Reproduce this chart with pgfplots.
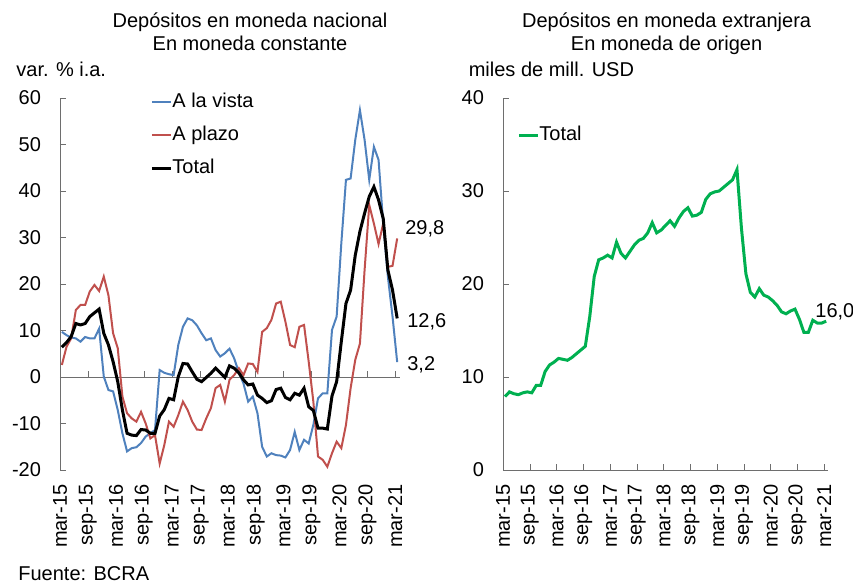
\documentclass[border=0pt]{standalone}
\usepackage{fontspec}
\setmainfont{Liberation Sans}
\usepackage{pgfplots}
\pgfplotsset{compat=1.18}
\usepackage{pgfplotstable}
\definecolor{cblue}{RGB}{79,129,189}
\definecolor{cred}{RGB}{192,80,77}
\definecolor{cgreen}{RGB}{0,176,80}
\definecolor{axgray}{RGB}{110,110,110}

\pgfplotstableread{
m vista plazo total
0 9.7 2.6 6.4
1 9.0 6.5 7.4
2 8.5 8.3 8.7
3 8.3 14.4 11.5
4 7.6 15.5 11.2
5 8.6 15.5 11.5
6 8.3 18.4 13.0
7 8.3 19.8 13.8
8 10.4 18.5 14.6
9 0.1 21.6 9.4
10 -2.8 17.6 6.9
11 -3.1 9.4 3.3
12 -7.1 6.2 -1.0
13 -12.1 -4.2 -7.1
14 -16.0 -7.8 -12.1
15 -15.3 -8.9 -12.5
16 -15.1 -9.6 -12.6
17 -14.2 -7.5 -11.3
18 -12.8 -10.0 -11.4
19 -12.1 -13.2 -12.1
20 -11.4 -12.5 -12.1
21 1.5 -18.6 -8.4
22 0.9 -14.6 -7.0
23 0.6 -9.6 -4.6
24 0.4 -10.7 -4.9
25 6.9 -8.2 0.1
26 10.8 -5.3 2.9
27 12.6 -7.1 2.8
28 12.2 -9.6 1.1
29 11.1 -11.3 -0.5
30 9.4 -11.4 -1.0
31 7.9 -8.9 -0.1
32 8.3 -6.7 0.8
33 5.8 -2.4 1.9
34 4.4 -1.7 0.9
35 5.1 -5.3 -0.1
36 6.1 -0.6 2.4
37 4.0 0.4 1.9
38 1.0 1.9 0.9
39 -1.4 0.4 -0.6
40 -5.3 2.9 -1.7
41 -4.2 2.8 -1.5
42 -7.8 1.1 -3.9
43 -15.0 9.7 -4.6
44 -17.1 10.5 -5.5
45 -16.4 12.3 -5.1
46 -16.8 15.8 -2.7
47 -16.9 16.2 -2.4
48 -17.3 11.9 -4.4
49 -15.7 6.9 -4.9
50 -11.8 6.4 -3.5
51 -15.7 10.8 -3.9
52 -13.5 11.2 -2.4
53 -14.3 3.3 -6.4
54 -10.3 -5.3 -7.2
55 -4.6 -17.1 -11.0
56 -3.5 -17.8 -11.0
57 -3.5 -19.3 -11.2
58 10.1 -16.4 -4.1
59 13.0 -13.9 -1.0
60 28.7 -15.3 7.6
61 42.4 -10.3 15.8
62 42.7 -2.4 18.7
63 51.0 3.7 26.2
64 57.4 7.2 31.3
65 51.0 23.0 35.2
66 42.4 37.0 38.8
67 49.5 33.0 40.9
68 46.7 28.6 38.1
69 33.0 33.0 34.1
70 21.6 23.7 23.0
71 13.0 23.9 18.7
72 3.2 29.8 12.6
}\nacional

\pgfplotstableread{
m usd
0 7.9
1 8.4
2 8.2
3 8.1
4 8.3
5 8.4
6 8.3
7 9.1
8 9.1
9 10.6
10 11.3
11 11.6
12 12.0
13 11.9
14 11.8
15 12.1
16 12.5
17 12.9
18 13.3
19 16.5
20 20.8
21 22.6
22 22.8
23 23.1
24 22.8
25 24.5
26 23.3
27 22.8
28 23.5
29 24.2
30 24.7
31 24.9
32 25.5
33 26.6
34 25.5
35 25.8
36 26.3
37 26.8
38 26.2
39 27.1
40 27.8
41 28.2
42 27.3
43 27.4
44 27.7
45 29.1
46 29.7
47 29.9
48 30.0
49 30.4
50 30.8
51 31.2
52 32.3
53 26.0
54 21.1
55 19.1
56 18.6
57 19.5
58 18.8
59 18.6
60 18.2
61 17.7
62 17.0
63 16.8
64 17.1
65 17.3
66 16.2
67 14.8
68 14.8
69 16.1
70 15.8
71 15.8
72 16.0
}\extranjera

\pgfplotsset{
  common/.style={
    scale only axis, anchor=south west,
    height=186pt,
    tick align=inside,
    major tick length=3pt,
    /pgf/number format/assume math mode=true,
    xticklabels={mar-15,sep-15,mar-16,sep-16,mar-17,sep-17,mar-18,sep-18,mar-19,sep-19,mar-20,sep-20,mar-21},
    xticklabel style={rotate=90, anchor=east},
    xticklabel shift=3.7pt,
    yticklabel shift=6pt,
    clip=false,
    legend cell align=left,
    legend image code/.code={\draw[#1] (0pt,0pt) -- (9.5pt,0pt);},
  },
}

\begin{document}
\begin{tikzpicture}
\path[use as bounding box] (0,0) rectangle (426.5pt,293pt);

% zero line with its ticks (left panel)
\begin{axis}[
  at={(30pt,58pt)}, anchor=south west,
  scale only axis, width=170pt, height=186pt,
  xmin=-0.4, xmax=72.6, ymin=-20, ymax=60,
  axis x line=middle, axis y line=none,
  x axis line style={-, axgray},
  xtick={-0.4,5.6,11.6,17.6,23.6,29.6,35.6,41.6,47.6,53.6,59.6,65.6,71.6},
  xticklabels={},
  ytick=\empty,
  xtick style={axgray},
  xtick align=inside, major tick length=3pt,
]
\end{axis}

\begin{axis}[
  common,
  at={(30pt,58pt)}, width=170pt,
  xmin=-0.4, xmax=72.6, ymin=-20, ymax=60,
  ytick={-20,-10,0,10,20,30,40,50,60},
  xtick={-0.4,5.6,11.6,17.6,23.6,29.6,35.6,41.6,47.6,53.6,59.6,65.6,71.6},
  axis y line*=left, axis x line*=bottom,
  x axis line style={draw=none},
  y axis line style={-, axgray},
  xtick style={draw=none},
  ytick style={axgray},
  legend style={at={(0.2647,1.0183)}, anchor=north west, draw=none, fill=none,
    inner sep=0pt, row sep=6pt,
    nodes={inner sep=0pt, text height=8pt, text depth=2.5pt}},
]
\addplot[cblue, line width=1pt] table[x=m, y=vista] {\nacional};
\addlegendentry{A la vista}
\addplot[cred, line width=1pt] table[x=m, y=plazo] {\nacional};
\addlegendentry{A plazo}
\addplot[black, line width=1.5pt] table[x=m, y=total] {\nacional};
\addlegendentry{Total}
\node[anchor=base west, inner sep=0pt] at (axis cs:73.66,30.75) {29,8};
\node[anchor=base west, inner sep=0pt] at (axis cs:74.1,10.75) {12,6};
\node[anchor=base west, inner sep=0pt] at (axis cs:74.1,1.3) {3,2};
\end{axis}

\begin{axis}[
  common,
  at={(251.5pt,58pt)}, width=162.5pt,
  xmin=-0.45, xmax=72.4, ymin=0, ymax=40,
  ytick={0,10,20,30,40},
  xtick={-0.45,5.55,11.55,17.55,23.55,29.55,35.55,41.55,47.55,53.55,59.55,65.55,71.55},
  axis lines*=left,
  axis line style={-, axgray},
  tick style={axgray},
  legend style={at={(0.043,0.9296)}, anchor=north west, draw=none, fill=none,
    inner sep=0pt, row sep=6pt,
    nodes={inner sep=0pt, text height=8pt, text depth=2.5pt}},
]
\addplot[cgreen, line width=1.5pt] table[x=m, y=usd] {\extranjera};
\addlegendentry{Total}
\node[anchor=base west, inner sep=0pt] at (axis cs:69.49,16.45) {16,0};
\end{axis}

\node[anchor=base] at (125pt,279.5pt) {Depósitos en moneda nacional};
\node[anchor=base] at (125pt,268pt) {En moneda constante};
\node[anchor=base west, inner sep=0pt] at (8pt,255pt) {var. \% i.a.};
\node[anchor=base] at (333.3pt,279.5pt) {Depósitos en moneda extranjera};
\node[anchor=base] at (333.3pt,268pt) {En moneda de origen};
\node[anchor=base west, inner sep=0pt] at (234.2pt,255pt) {miles de mill. USD};
\node[anchor=base west, inner sep=0pt] at (9pt,3pt) {Fuente: BCRA};
\end{tikzpicture}
\end{document}
